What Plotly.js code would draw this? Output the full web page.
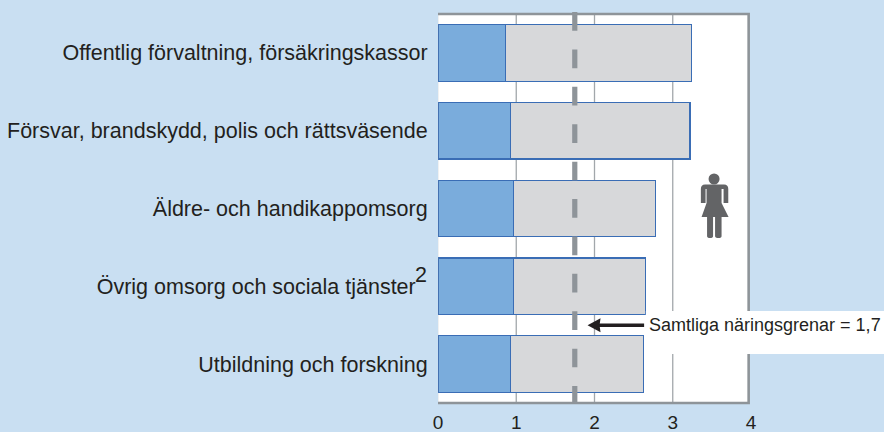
<!DOCTYPE html>
<html><head><meta charset="utf-8">
<script src="https://cdn.plot.ly/plotly-3.0.1.min.js"></script>
<style>html,body{margin:0;padding:0;background:#c9dff2}</style></head>
<body><div id="chart" style="width:884px;height:432px"></div>
<script>
const categories = [
  "Offentlig förvaltning, försäkringskassor",
  "Försvar, brandskydd, polis och rättsväsende",
  "Äldre- och handikappomsorg",
  "Övrig omsorg och sociala tjänster\u00A0\u00A0",
  "Utbildning och forskning"
];
const footnoteMark = "2";
const blueValues = [0.865, 0.93, 0.965, 0.965, 0.925];
const grayValues = [2.375, 2.29, 1.815, 1.685, 1.705];
const xTicks = [0, 1, 2, 3, 4];
const gridTicks = [1, 2, 3];
const averageValue = 1.748;
const calloutText = "Samtliga näringsgrenar = 1,7";

const FONT = "Liberation Sans, Arial, sans-serif";
const BG = "#c9dff2", FRAME = "#8e9499", TEXT = "#231f20";
const barLine = {color: "#3a6db5", width: 1.2};

const traces = [
  {type: "bar", orientation: "h", y: categories, x: blueValues, width: 0.726,
   marker: {color: "#7aacdc", line: barLine}, hoverinfo: "x+y"},
  {type: "bar", orientation: "h", y: categories, x: grayValues, width: 0.726,
   marker: {color: "#d7d8da", line: barLine}, hoverinfo: "x+y"}
];

const shapes = [
  {type: "rect", layer: "below", xref: "x", yref: "paper", x0: -0.015, x1: 3.97, y0: 0, y1: 1,
   fillcolor: "#ffffff", line: {width: 0}}
];
gridTicks.forEach(v => shapes.push({type: "line", layer: "below", xref: "x", yref: "paper",
  x0: v, x1: v, y0: 0, y1: 1, line: {color: "#a2a7ab", width: 1.3}}));
shapes.push({type: "rect", layer: "above", xref: "x", yref: "paper", x0: -0.015, x1: 3.97, y0: 0, y1: 1,
  fillcolor: "rgba(0,0,0,0)", line: {color: FRAME, width: 2.6}});
shapes.push({type: "line", layer: "above", xref: "x", yref: "paper", x0: averageValue, x1: averageValue,
  y0: 1.005, y1: 0, line: {color: FRAME, width: 5.2, dash: "18.7px,18.7px"}});
// white box behind the callout
shapes.push({type: "rect", layer: "above", xref: "paper", yref: "paper", xsizemode: "pixel", ysizemode: "pixel",
  xanchor: 0.664, yanchor: 0.126, x0: 0, x1: 240, y0: 0, y1: 43, fillcolor: "#ffffff", line: {width: 0}});
// woman icon: head and body (y up in pixel mode)
shapes.push({type: "circle", layer: "above", xref: "paper", yref: "paper", xsizemode: "pixel", ysizemode: "pixel",
  xanchor: 0.882, yanchor: 0.5758, x0: -5.5, x1: 5.5, y0: -5.5, y1: 5.5, fillcolor: "#636466", line: {width: 0}});
shapes.push({type: "path", layer: "above", xref: "paper", yref: "paper", xsizemode: "pixel", ysizemode: "pixel",
  xanchor: 0.882, yanchor: 0.5758, fillcolor: "#636466", line: {width: 0},
  path: "M -9 -5.5 L 10 -5.5 Q 14.2 -5.5 14.2 -10 L 14.2 -24 L 9.5 -24 L 9.5 -10 L 7.5 -10 L 7.5 -24 " +
        "L 14.5 -38 L 7.5 -38 L 7.5 -57 Q 7.5 -59 4.5 -59 Q 1 -59 1 -57 L 1 -38 L -1 -38 L -1 -57 Q -1 -59 -4 -59 Q -7 -59 -7 -57 L -7 -38 " +
        "L -12.5 -38 L -7.5 -24 L -7.5 -10 L -8.5 -10 L -8.5 -24 L -13.2 -24 L -13.2 -10 Q -13.2 -5.5 -9 -5.5 Z"});
// arrow shaft
shapes.push({type: "line", layer: "above", xref: "x", yref: "paper", x0: 1.98, x1: 2.634, y0: 0.1997, y1: 0.1997,
  line: {color: TEXT, width: 3.4}});
// arrow head
shapes.push({type: "path", layer: "above", xref: "x", yref: "paper", xsizemode: "pixel", ysizemode: "pixel",
  xanchor: 1.911, yanchor: 0.1997, fillcolor: TEXT, line: {width: 0},
  path: "M 0 0 L 13 7 L 12 0 L 13 -7 Z"});

const layout = {
  width: 884, height: 432,
  margin: {l: 437.5, r: 133, t: 14, b: 29, pad: 0},
  paper_bgcolor: BG, plot_bgcolor: "rgba(0,0,0,0)",
  barmode: "stack", showlegend: false,
  font: {family: FONT, size: 21.5, color: TEXT},
  xaxis: {range: [0, 4], tickmode: "array", tickvals: xTicks, ticktext: xTicks.map(String),
    showgrid: false, zeroline: false, showline: false, ticks: "outside", ticklen: 2.3, tickcolor: "rgba(0,0,0,0)",
    tickfont: {size: 19, color: TEXT}, automargin: false},
  yaxis: {autorange: "reversed", showgrid: false, zeroline: false, showline: false,
    ticks: "outside", ticklen: 5, tickcolor: "rgba(0,0,0,0)", tickfont: {size: 21.5, color: TEXT}, automargin: false},
  shapes: shapes,
  annotations: [
    {xref: "paper", yref: "paper", x: 0.6665, y: 0.2005, xanchor: "left", yanchor: "middle", align: "left",
     text: calloutText, showarrow: false, font: {size: 18, color: TEXT, family: FONT}},
    {xref: "paper", yref: "paper", x: -0.0797, y: 0.3278, xanchor: "left", yanchor: "middle",
     text: footnoteMark, showarrow: false, font: {size: 21.5, color: TEXT, family: FONT}}
  ]
};
Plotly.newPlot("chart", traces, layout, {displayModeBar: false, staticPlot: true});
</script></body></html>
